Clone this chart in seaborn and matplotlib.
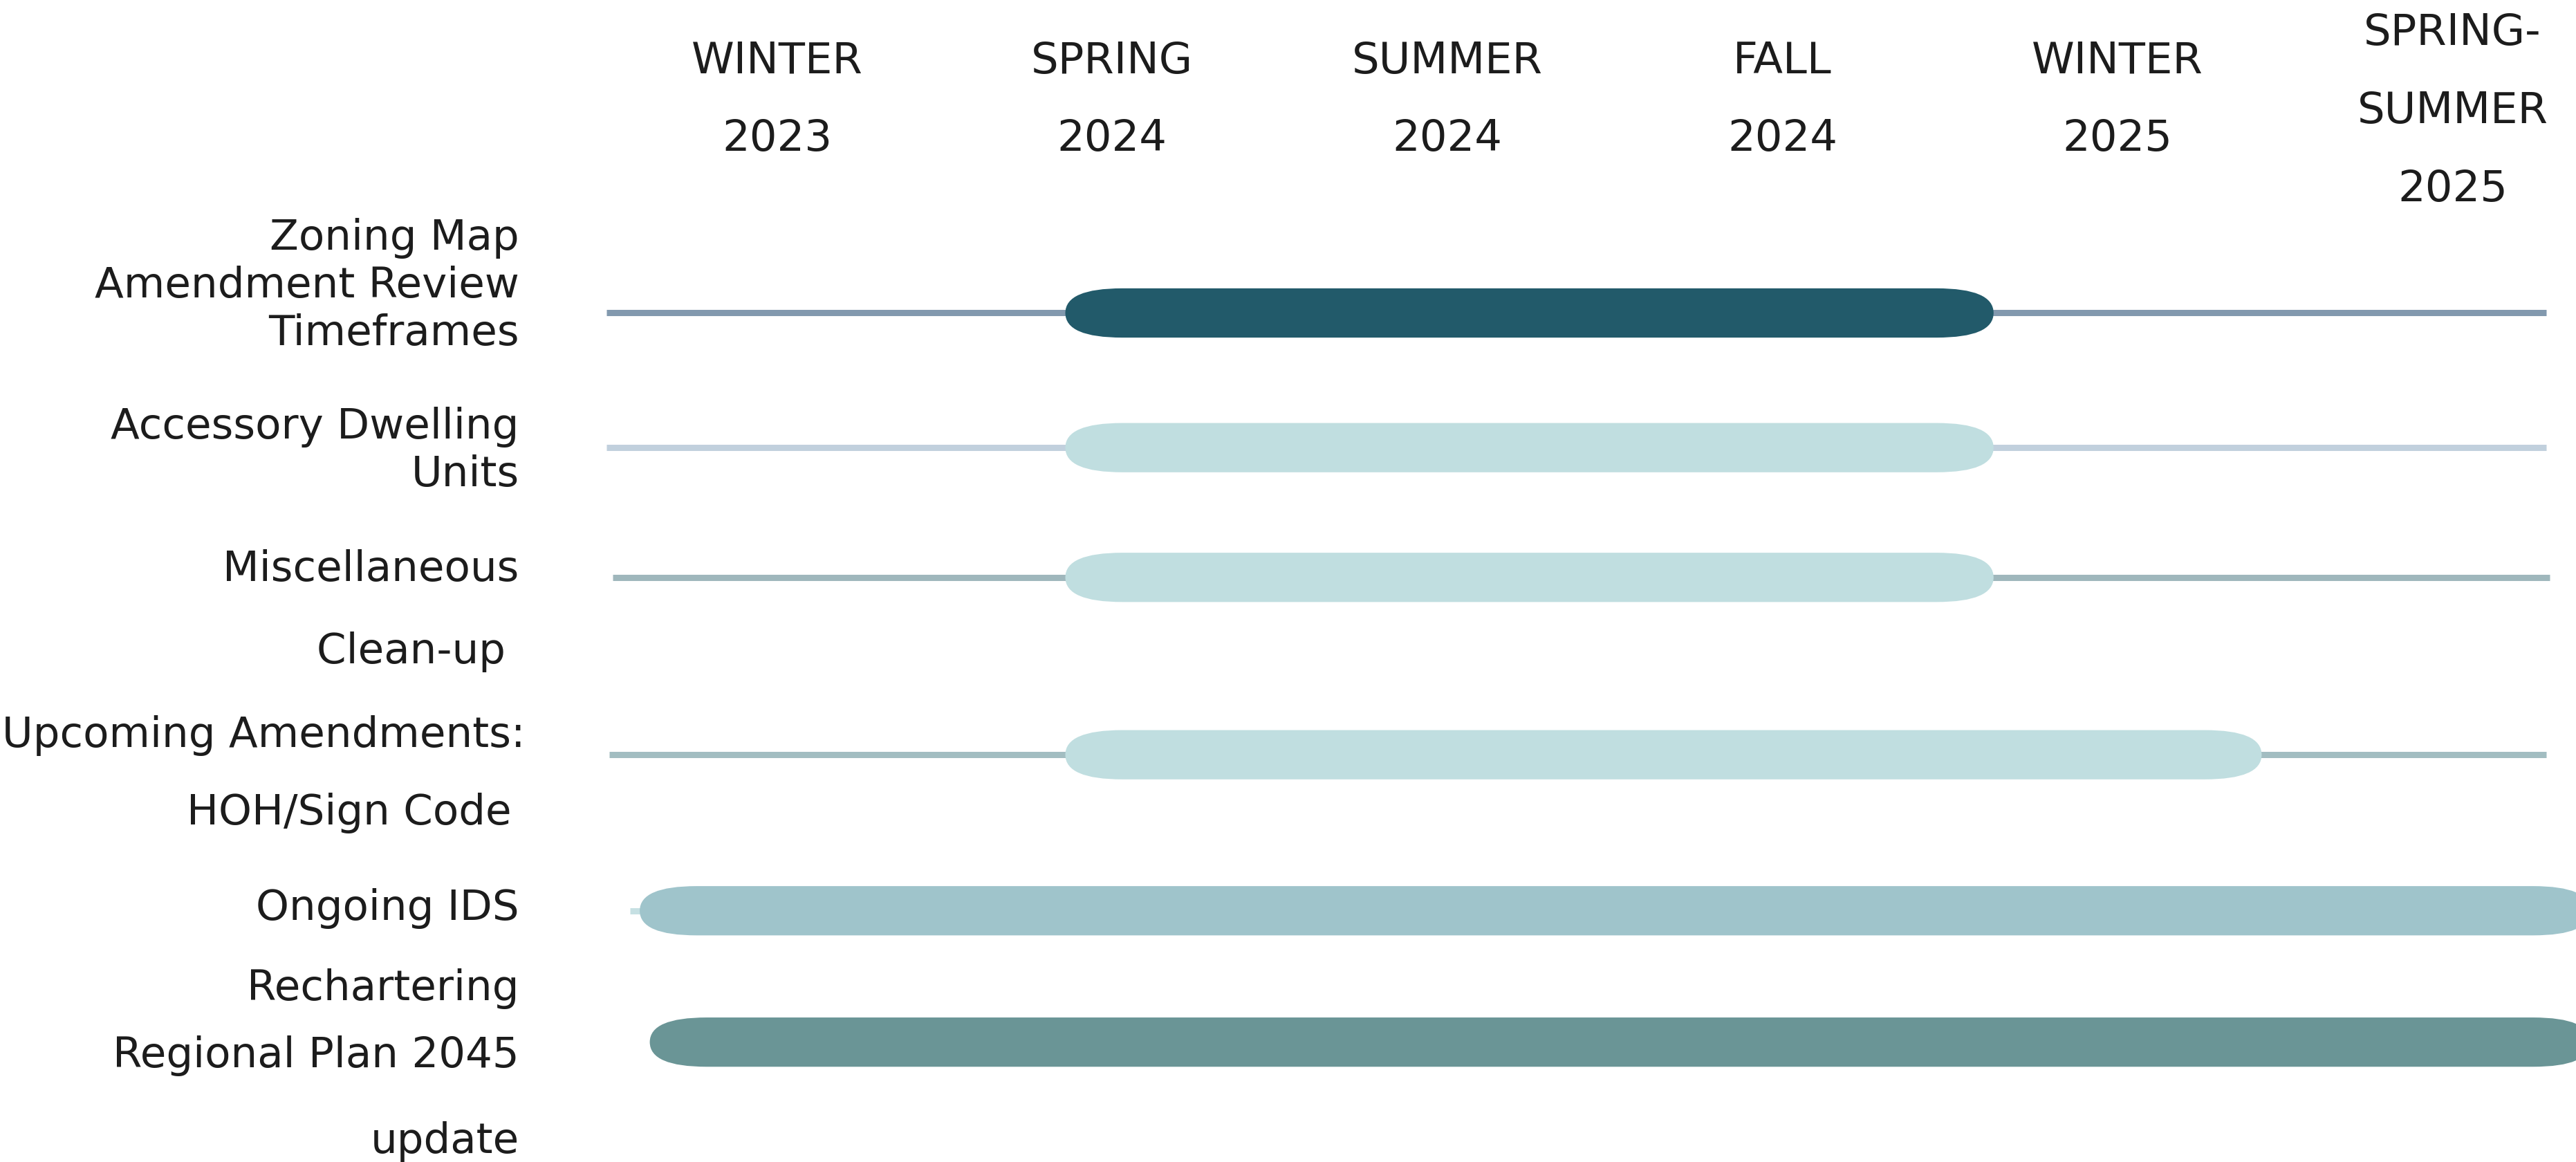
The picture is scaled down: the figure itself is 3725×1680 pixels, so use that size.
import numpy as np
import pandas as pd
import seaborn as sns
from matplotlib import pyplot as plt
from matplotlib.patches import FancyBboxPatch


# ----------------------------------------------------------------------
# data (x in season index: 0 = Winter 2023 ... 5 = Spring-Summer 2025)
seasons = ["WINTER\n2023", "SPRING\n2024", "SUMMER\n2024", "FALL\n2024",
           "WINTER\n2025", "SPRING-\nSUMMER\n2025"]
tasks = ["Zoning Map\nAmendment Review\nTimeframes",
         "Accessory Dwelling\nUnits",
         "Miscellaneous\nClean-up ",
         "Upcoming Amendments:\nHOH/Sign Code ",
         "Ongoing IDS\nRechartering",
         "Regional Plan 2045\nupdate"]
bar_start = [0.86, 0.86, 0.86, 0.86, -0.41, -0.38]
bar_end = [3.63, 3.63, 3.63, 4.43, 5.41, 5.41]
track_start = [-0.51, -0.51, -0.49, -0.50, -0.44, np.nan]
track_end = [5.28, 5.28, 5.29, 5.28, 5.41, np.nan]

# ----------------------------------------------------------------------
# layout / style
H = 708                      # vertical layout units, top = 0
XLIM = (-2.319, 5.368)
row_y = [191, 273, 352, 460, 555, 635]
label_y = [143, 258, 345, 446, 551, 641]
label_gap = [29, 29, 50, 47, 49, 52]
label_x = [-0.77, -0.77, -0.77, -0.752, -0.77, -0.77]
header_y = [35, 35, 35, 35, 35, 18]
header_gap = 47.5
bar_h = 30
round_x = 0.17

bar_colors = ["#225A6A", "#C0DEE0", "#C0DEE0", "#C0DEE0", "#9FC4CB", "#6A9596"]
track_colors = ["#8299AE", "#C1D0DD", "#9FB7BC", "#A2BDC1", "#C6E0E3", "#FFFFFF"]
ink = "#1c1c1c"

sns.set_theme(style="white")
plt.rcParams["font.family"] = ["DejaVu Sans"]

fig = plt.figure(figsize=(37.25, 16.81), dpi=100)
ax = fig.add_axes([0, 0, 1, 1])

# thin tracks
track = pd.DataFrame({
    "task": np.repeat(tasks, 2),
    "x": np.ravel(np.column_stack([track_start, track_end])),
    "y": np.repeat(row_y, 2),
}).dropna()
sns.lineplot(data=track, x="x", y="y", hue="task", units="task", estimator=None,
             palette=dict(zip(tasks, track_colors)), linewidth=6.5, sort=False,
             legend=False, ax=ax, solid_capstyle="butt", zorder=1)

# rounded bars
for s, e, y, c in zip(bar_start, bar_end, row_y, bar_colors):
    ax.add_patch(FancyBboxPatch((s, y - bar_h / 2), e - s, bar_h,
                                boxstyle=f"round,pad=0,rounding_size={round_x}",
                                mutation_aspect=(bar_h / 2) / round_x,
                                fc=c, ec="none", zorder=3))

# column headers
for i, (lab, y0) in enumerate(zip(seasons, header_y)):
    for k, line in enumerate(lab.split("\n")):
        ax.text(i, y0 + k * header_gap + 9.5, line, ha="center", va="baseline",
                fontsize=45, color=ink)

# row labels
for lab, x0, y0, gap in zip(tasks, label_x, label_y, label_gap):
    for k, line in enumerate(lab.split("\n")):
        ax.text(x0, y0 + k * gap + 9, line, ha="right", va="baseline",
                fontsize=44, color=ink)

ax.set_xlim(*XLIM)
ax.set_ylim(H, 0)
ax.set_axis_off()

fig.savefig("out.png", dpi=100, facecolor="white")
